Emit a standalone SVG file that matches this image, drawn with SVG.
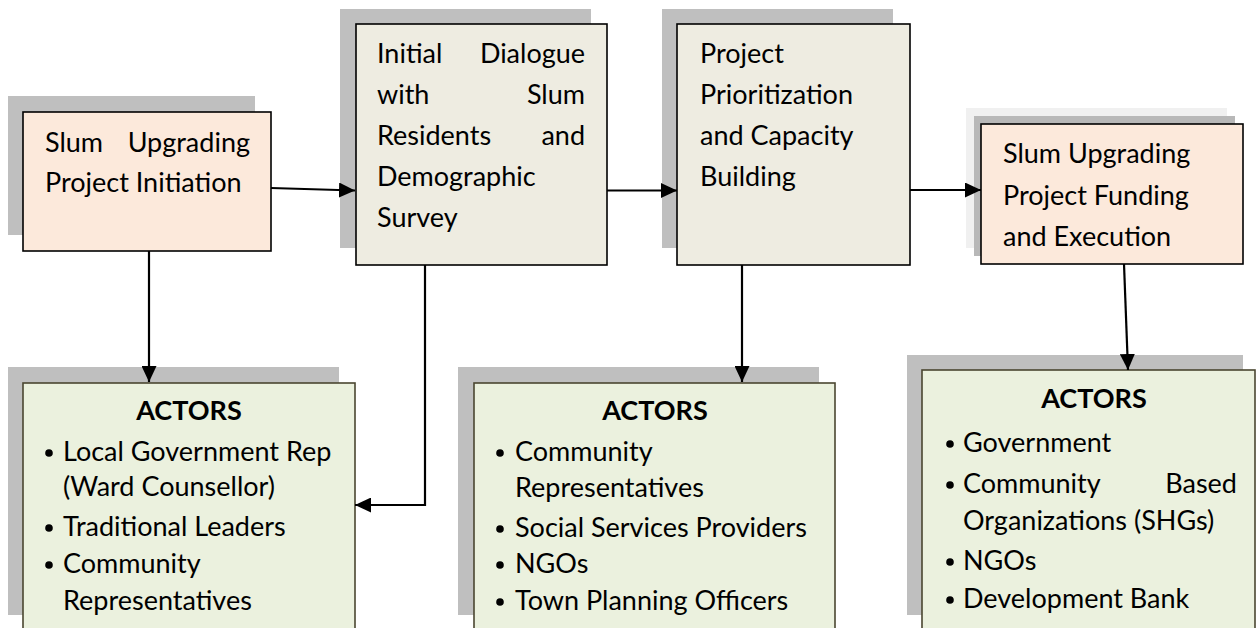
<svg xmlns="http://www.w3.org/2000/svg" width="1258" height="628" viewBox="0 0 1258 628">
<style>
.t{font-family:Lato,"Open Sans","Liberation Sans",sans-serif;font-size:27px;fill:#000}
.b{font-weight:bold}
.sh{fill:#bfbfbf}
.box{stroke:#000;stroke-width:1.6}
.peach{fill:#fce9db}
.grey{fill:#eeece1}
.act{fill:#ebf1de;stroke:#4a4630;stroke-width:1.6}
.c{fill:none;stroke:#000;stroke-width:2.2}
</style>
<defs>
<marker id="ah" markerUnits="userSpaceOnUse" markerWidth="16" markerHeight="15" refX="16" refY="7.5" orient="auto">
<path d="M0,0 L16,7.5 L0,15 z" fill="#000"/>
</marker>
</defs>
<rect width="1258" height="628" fill="#fff"/>

<g id="node1">
<rect class="sh" x="8" y="96" width="247" height="139"/>
<rect class="box peach" x="23" y="112" width="248" height="139"/>
<text class="t" x="45" y="152">Slum</text>
<text class="t" x="250" y="152" text-anchor="end">Upgrading</text>
<text class="t" x="45" y="192">Project Initiation</text>
</g>

<g id="node2">
<rect class="sh" x="340" y="9" width="251" height="239"/>
<rect class="box grey" x="356" y="24" width="251" height="241"/>
<text class="t" x="377" y="63">Initial</text>
<text class="t" x="585" y="63" text-anchor="end">Dialogue</text>
<text class="t" x="377" y="104">with</text>
<text class="t" x="585" y="104" text-anchor="end">Slum</text>
<text class="t" x="377" y="145">Residents</text>
<text class="t" x="585" y="145" text-anchor="end">and</text>
<text class="t" x="377" y="186">Demographic</text>
<text class="t" x="377" y="227">Survey</text>
</g>

<g id="node3">
<rect class="sh" x="662" y="9" width="231" height="239"/>
<rect class="box grey" x="677" y="24" width="233" height="241"/>
<text class="t" x="700" y="63">Project</text>
<text class="t" x="700" y="104">Prioritization</text>
<text class="t" x="700" y="145">and Capacity</text>
<text class="t" x="700" y="186">Building</text>
</g>

<g id="node4">
<rect x="966" y="108" width="261" height="140" fill="#f0f0f0"/>
<rect x="974" y="116" width="261" height="140" fill="#b8b8b8"/>
<rect class="box peach" x="981" y="124" width="262" height="140"/>
<text class="t" x="1003" y="163">Slum Upgrading</text>
<text class="t" x="1003" y="205">Project Funding</text>
<text class="t" x="1003" y="246">and Execution</text>
</g>

<g id="actors1">
<rect class="sh" x="8" y="367" width="331" height="248"/>
<rect class="act" x="23" y="383" width="332" height="260"/>
<text class="t b" x="189" y="420" text-anchor="middle">ACTORS</text>
<circle cx="49" cy="453" r="3.8"/>
<text class="t" x="63" y="461">Local Government Rep</text>
<text class="t" x="63" y="496">(Ward Counsellor)</text>
<circle cx="49" cy="528" r="3.8"/>
<text class="t" x="63" y="536">Traditional Leaders</text>
<circle cx="49" cy="565" r="3.8"/>
<text class="t" x="63" y="573">Community</text>
<text class="t" x="63" y="610">Representatives</text>
</g>

<g id="actors2">
<rect class="sh" x="458" y="367" width="361" height="248"/>
<rect class="act" x="474" y="383" width="361" height="260"/>
<text class="t b" x="655" y="420" text-anchor="middle">ACTORS</text>
<circle cx="500" cy="453" r="3.8"/>
<text class="t" x="515" y="461">Community</text>
<text class="t" x="515" y="497">Representatives</text>
<circle cx="500" cy="529" r="3.8"/>
<text class="t" x="515" y="537">Social Services Providers</text>
<circle cx="500" cy="565" r="3.8"/>
<text class="t" x="515" y="573">NGOs</text>
<circle cx="500" cy="602" r="3.8"/>
<text class="t" x="515" y="610">Town Planning Officers</text>
</g>

<g id="actors3">
<rect class="sh" x="907" y="355" width="336" height="260"/>
<rect class="act" x="922" y="370" width="333" height="270"/>
<text class="t b" x="1094" y="408" text-anchor="middle">ACTORS</text>
<circle cx="950" cy="444" r="3.8"/>
<text class="t" x="963" y="452">Government</text>
<circle cx="950" cy="485" r="3.8"/>
<text class="t" x="963" y="493">Community</text>
<text class="t" x="1237" y="493" text-anchor="end">Based</text>
<text class="t" x="963" y="530">Organizations (SHGs)</text>
<circle cx="950" cy="562" r="3.8"/>
<text class="t" x="963" y="570">NGOs</text>
<circle cx="950" cy="600" r="3.8"/>
<text class="t" x="963" y="608">Development Bank</text>
</g>

<g id="connectors">
<path class="c" d="M271,188 L355,190.5" marker-end="url(#ah)"/>
<path class="c" d="M607,190.5 L677,190.5" marker-end="url(#ah)"/>
<path class="c" d="M910,190 L981,190" marker-end="url(#ah)"/>
<path class="c" d="M149,251 L149,382" marker-end="url(#ah)"/>
<path class="c" d="M425,265 L425,505 L355,505" marker-end="url(#ah)"/>
<path class="c" d="M742,265 L742,382" marker-end="url(#ah)"/>
<path class="c" d="M1124,264 L1128,370" marker-end="url(#ah)"/>
</g>
</svg>
